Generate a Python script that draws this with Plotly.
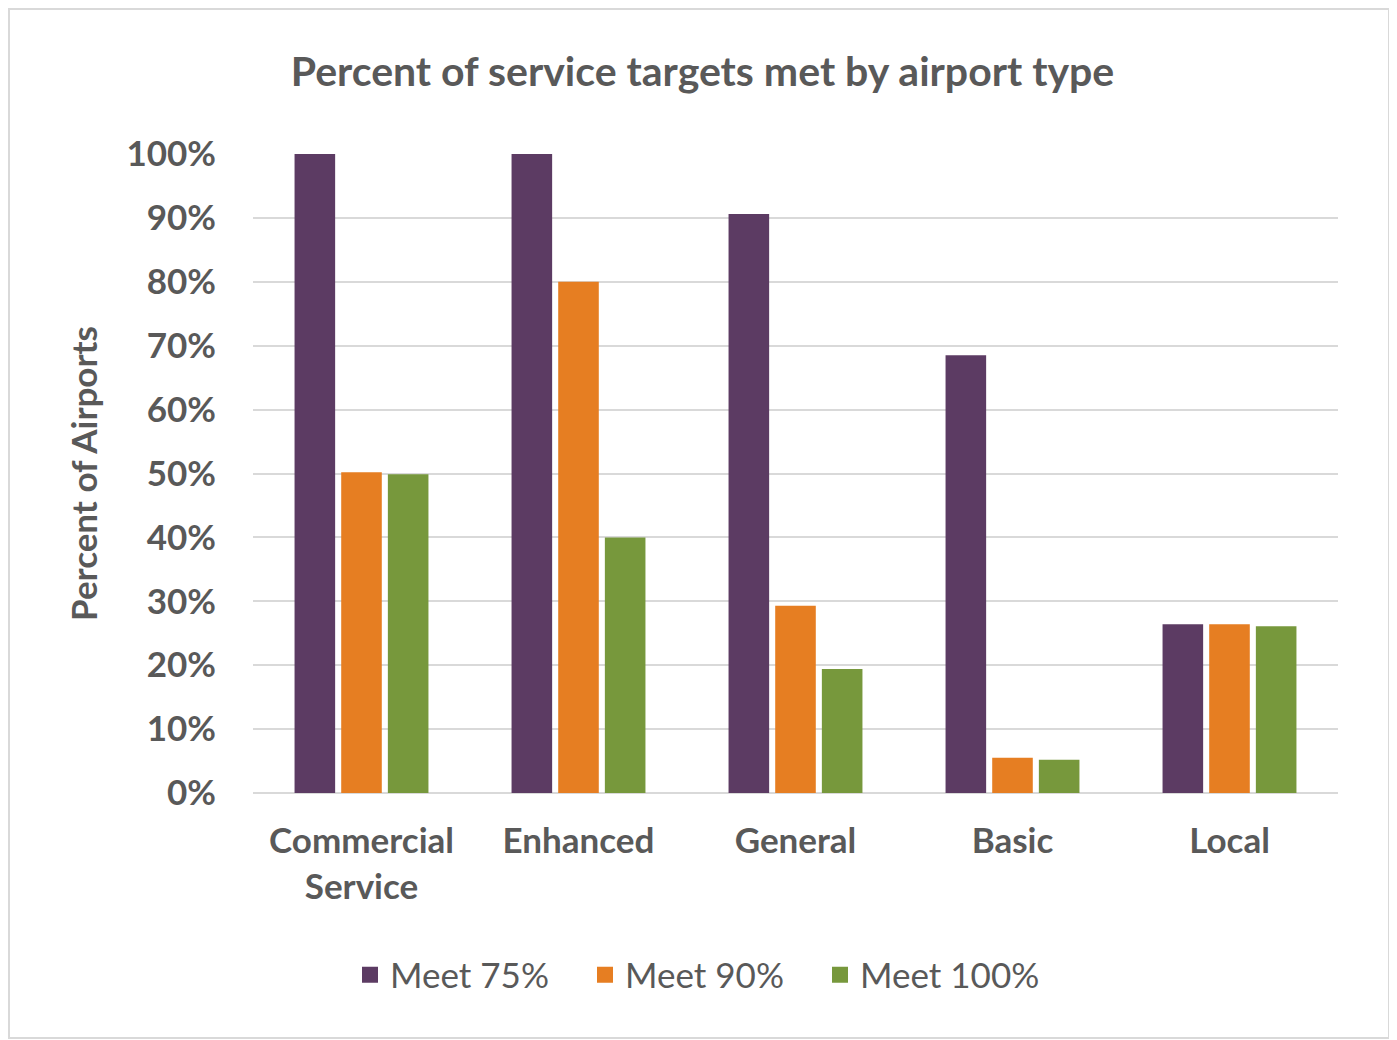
import plotly.graph_objects as go

categories = ["Commercial<br>Service", "Enhanced", "General", "Basic", "Local"]
meet_75 = [1.00, 1.00, 0.906, 0.685, 0.264]
meet_90 = [0.502, 0.80, 0.293, 0.055, 0.264]
meet_100 = [0.499, 0.40, 0.194, 0.052, 0.261]
series_names = ["Meet 75%", "Meet 90%", "Meet 100%"]
colors = ["#5C3B63", "#E67E22", "#77983C"]
tick_vals = [0, 0.1, 0.2, 0.3, 0.4, 0.5, 0.6, 0.7, 0.8, 0.9, 1.0]

FONT = "Lato"
TXT = "#595959"

fig = go.Figure()
for name, vals, col in zip(series_names, [meet_75, meet_90, meet_100], colors):
    fig.add_trace(go.Bar(x=categories, y=vals, name=name, showlegend=False,
                         marker=dict(color=col, line=dict(width=0))))
# legend entries with larger square swatches
for name, col in zip(series_names, colors):
    fig.add_trace(go.Scatter(x=[None], y=[None], mode="markers", name=name,
                             marker=dict(symbol="square", size=16, color=col),
                             showlegend=True, hoverinfo="skip"))

# page body has an 8px margin, so figure is drawn offset by 8px
W, H = 1389, 1032
L, R, T, B = 245, 59, 146, 247
pw = W - L - R
ph = H - T - B

def px_x(p):
    return (p - L) / pw

def px_y(p):
    return (H - B - p) / ph

fig.update_layout(
    width=W, height=H,
    margin=dict(l=L, r=R, t=T, b=B, pad=0),
    paper_bgcolor="white", plot_bgcolor="white",
    barmode="group", bargap=0.355, bargroupgap=0.13,
    title=dict(text="Percent of service targets met by airport type",
               x=0.5, xanchor="center", y=1 - 64 / H, yanchor="middle",
               font=dict(family=FONT, size=41, color=TXT, weight="bold")),
    font=dict(family=FONT, color=TXT),
    showlegend=True,
    legend=dict(orientation="h", x=0.5, xanchor="center", xref="container",
                y=1 - 967 / H, yanchor="middle", yref="container",
                font=dict(family=FONT, size=35, color=TXT),
                itemwidth=30, traceorder="normal", itemsizing="trace",
                entrywidth=190, entrywidthmode="pixels"),
    xaxis=dict(showgrid=False, showline=False, zeroline=False, ticks="",
               tickfont=dict(family=FONT, size=35, color=TXT, weight="bold"),
               ticklabelstandoff=24),
    yaxis=dict(range=[0, 1.0], tickvals=tick_vals, tickformat=".0%",
               showgrid=True, gridcolor="#D9D9D9", gridwidth=2,
               zeroline=True, zerolinecolor="#D9D9D9", zerolinewidth=2,
               showline=False, ticks="",
               tickfont=dict(family=FONT, size=35, color=TXT, weight="bold"),
               ticklabelstandoff=36,
               title=dict(text="Percent of Airports", standoff=18,
                          font=dict(family=FONT, size=35, color=TXT, weight="bold"))),
    shapes=[dict(type="rect", xref="paper", yref="paper",
                 x0=px_x(1), x1=px_x(1381), y0=px_y(1030), y1=px_y(1),
                 line=dict(color="#D9D9D9", width=2), layer="below")],
)

fig.write_html("out.html")
